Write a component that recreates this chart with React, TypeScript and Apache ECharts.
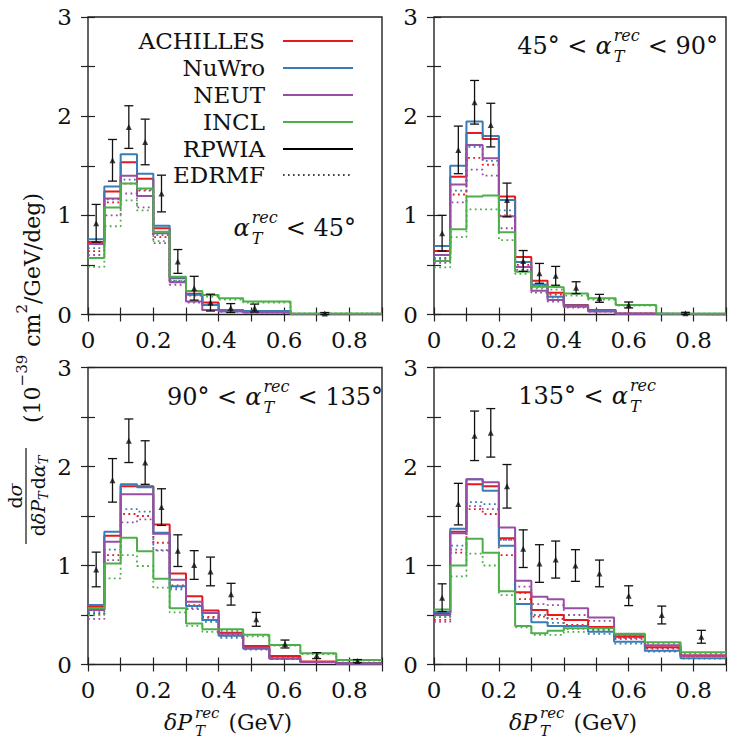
import React, { useEffect, useRef } from "react";
import * as echarts from "echarts";

// ---------- bin edges (GeV) ----------
const EDGES_TL = [0, 0.05, 0.1, 0.15, 0.2, 0.25, 0.3, 0.35, 0.4, 0.475, 0.62, 0.9];
const EDGES_TR = [0, 0.05, 0.1, 0.15, 0.2, 0.25, 0.3, 0.35, 0.4, 0.475, 0.56, 0.685, 0.9];
const EDGES_B = [0, 0.05, 0.1, 0.15, 0.2, 0.25, 0.3, 0.35, 0.4, 0.475, 0.555, 0.65, 0.76, 0.9];

const GENERATORS = ["ACHILLES", "NuWro", "NEUT", "INCL"];
const COLORS = ["#e41a1c", "#377eb8", "#984ea3", "#4daf4a"];
const MODELS = ["RPWIA", "EDRMF"];

// ---------- alpha_T < 45 ----------
const TL_ACH_RP = [0.73, 1.24, 1.535, 1.37, 0.87, 0.365, 0.21, 0.12, 0.045, 0.035, 0.005];
const TL_NUW_RP = [0.76, 1.29, 1.615, 1.42, 0.895, 0.37, 0.2, 0.096, 0.045, 0.035, 0.005];
const TL_NEU_RP = [0.71, 1.17, 1.4, 1.195, 0.82, 0.325, 0.13, 0.045, 0.03, 0.02, 0.003];
const TL_INC_RP = [0.57, 1.08, 1.32, 1.27, 0.835, 0.38, 0.237, 0.197, 0.163, 0.13, 0.01];
const TL_ACH_ED = [0.64, 1.13, 1.32, 1.25, 0.78, 0.33, 0.19, 0.1, 0.04, 0.03, 0.005];
const TL_NUW_ED = [0.67, 1.16, 1.36, 1.26, 0.8, 0.34, 0.2, 0.1, 0.04, 0.03, 0.005];
const TL_NEU_ED = [0.6, 1.0, 1.22, 1.08, 0.72, 0.3, 0.12, 0.045, 0.03, 0.02, 0.003];
const TL_INC_ED = [0.48, 0.89, 1.15, 1.05, 0.74, 0.34, 0.21, 0.18, 0.15, 0.12, 0.01];
const TL_DATA_X = [0.025, 0.075, 0.125, 0.175, 0.225, 0.275, 0.325, 0.375, 0.437, 0.51, 0.725];
const TL_DATA_Y = [0.92, 1.555, 1.89, 1.74, 1.22, 0.535, 0.265, 0.12, 0.065, 0.065, 0.01];
const TL_DATA_E = [0.19, 0.21, 0.215, 0.23, 0.185, 0.12, 0.12, 0.085, 0.045, 0.04, 0.01];

// ---------- 45 < alpha_T < 90 ----------
const TR_ACH_RP = [0.64, 1.39, 1.83, 1.77, 1.19, 0.58, 0.34, 0.22, 0.095, 0.045, 0.01, 0.002];
const TR_NUW_RP = [0.69, 1.5, 1.945, 1.8, 1.155, 0.53, 0.3, 0.18, 0.09, 0.04, 0.008, 0.002];
const TR_NEU_RP = [0.6, 1.31, 1.71, 1.575, 0.99, 0.48, 0.24, 0.146, 0.08, 0.03, 0.008, 0.002];
const TR_INC_RP = [0.54, 0.86, 1.19, 1.2, 0.83, 0.43, 0.28, 0.274, 0.213, 0.163, 0.096, 0.01];
const TR_ACH_ED = [0.56, 1.21, 1.58, 1.51, 1.0, 0.5, 0.3, 0.2, 0.08, 0.04, 0.008, 0.001];
const TR_NUW_ED = [0.57, 1.25, 1.69, 1.55, 1.05, 0.48, 0.28, 0.17, 0.08, 0.04, 0.008, 0.001];
const TR_NEU_ED = [0.52, 1.13, 1.46, 1.4, 0.87, 0.45, 0.22, 0.13, 0.07, 0.03, 0.005, 0.001];
const TR_INC_ED = [0.475, 0.78, 1.06, 1.06, 0.75, 0.41, 0.26, 0.25, 0.19, 0.15, 0.09, 0.008];
const TR_DATA_X = [0.025, 0.075, 0.125, 0.175, 0.225, 0.275, 0.325, 0.375, 0.438, 0.51, 0.6, 0.775];
const TR_DATA_Y = [0.82, 1.66, 2.14, 1.91, 1.155, 0.54, 0.415, 0.39, 0.27, 0.163, 0.096, 0.012];
const TR_DATA_E = [0.18, 0.24, 0.22, 0.22, 0.17, 0.105, 0.1, 0.095, 0.06, 0.04, 0.03, 0.01];

// ---------- 90 < alpha_T < 135 ----------
const BL_ACH_RP = [0.58, 1.3, 1.8, 1.8, 1.415, 0.92, 0.69, 0.545, 0.32, 0.186, 0.086, 0.03, 0.012];
const BL_NUW_RP = [0.6, 1.34, 1.82, 1.79, 1.33, 0.79, 0.59, 0.45, 0.29, 0.16, 0.06, 0.025, 0.01];
const BL_NEU_RP = [0.55, 1.24, 1.72, 1.72, 1.32, 0.855, 0.635, 0.52, 0.31, 0.17, 0.06, 0.025, 0.01];
const BL_INC_RP = [0.57, 1.02, 1.28, 1.145, 0.865, 0.567, 0.415, 0.355, 0.355, 0.3, 0.197, 0.113, 0.045];
const BL_ACH_ED = [0.51, 1.105, 1.52, 1.5, 1.23, 0.8, 0.6, 0.48, 0.29, 0.17, 0.075, 0.025, 0.01];
const BL_NUW_ED = [0.53, 1.16, 1.57, 1.545, 1.15, 0.76, 0.56, 0.43, 0.27, 0.15, 0.055, 0.025, 0.01];
const BL_NEU_ED = [0.46, 1.055, 1.435, 1.465, 1.155, 0.78, 0.57, 0.47, 0.3, 0.16, 0.055, 0.025, 0.01];
const BL_INC_ED = [0.5, 0.87, 1.105, 0.995, 0.776, 0.527, 0.39, 0.33, 0.34, 0.285, 0.19, 0.105, 0.04];
const BL_DATA_X = [0.025, 0.075, 0.125, 0.175, 0.225, 0.275, 0.325, 0.375, 0.438, 0.515, 0.603, 0.7, 0.825];
const BL_DATA_Y = [0.96, 1.86, 2.26, 2.04, 1.59, 1.15, 1.005, 0.94, 0.71, 0.456, 0.207, 0.09, 0.035];
const BL_DATA_E = [0.175, 0.22, 0.22, 0.22, 0.185, 0.16, 0.145, 0.145, 0.11, 0.07, 0.04, 0.03, 0.015];

// ---------- 135 < alpha_T ----------
const BR_ACH_RP = [0.52, 1.34, 1.82, 1.8, 1.275, 0.73, 0.55, 0.5, 0.45, 0.38, 0.28, 0.173, 0.09];
const BR_NUW_RP = [0.53, 1.37, 1.87, 1.755, 1.2, 0.61, 0.426, 0.39, 0.39, 0.33, 0.23, 0.14, 0.062];
const BR_NEU_RP = [0.5, 1.325, 1.87, 1.84, 1.385, 0.847, 0.685, 0.66, 0.567, 0.476, 0.3, 0.195, 0.09];
const BR_INC_RP = [0.555, 1.0, 1.27, 1.13, 0.74, 0.39, 0.315, 0.34, 0.365, 0.365, 0.31, 0.224, 0.123];
const BR_ACH_ED = [0.45, 1.13, 1.57, 1.52, 1.105, 0.66, 0.483, 0.46, 0.4, 0.35, 0.26, 0.16, 0.085];
const BR_NUW_ED = [0.48, 1.2, 1.64, 1.62, 1.26, 0.72, 0.5, 0.42, 0.36, 0.31, 0.21, 0.13, 0.06];
const BR_NEU_ED = [0.43, 1.16, 1.6, 1.57, 1.26, 0.786, 0.61, 0.6, 0.5, 0.44, 0.27, 0.17, 0.085];
const BR_INC_ED = [0.48, 0.89, 1.12, 1.0, 0.7, 0.376, 0.3, 0.3, 0.33, 0.34, 0.29, 0.21, 0.11];
const BR_DATA_X = [0.025, 0.075, 0.125, 0.175, 0.225, 0.275, 0.325, 0.375, 0.436, 0.51, 0.6, 0.702, 0.824];
const BR_DATA_Y = [0.675, 1.62, 2.31, 2.34, 1.8, 1.17, 1.02, 1.06, 1.0, 0.92, 0.695, 0.5, 0.28];
const BR_DATA_E = [0.14, 0.21, 0.25, 0.245, 0.22, 0.19, 0.19, 0.187, 0.16, 0.135, 0.1, 0.09, 0.065];

const X_MIN = 0;
const X_MAX = 0.9;
const X_STEP = 0.1;
const Y_MIN = 0;
const Y_MAX = 3;
const Y_STEP = 0.5;

const PANELS = [
  { edges: EDGES_TL, rp: [TL_ACH_RP, TL_NUW_RP, TL_NEU_RP, TL_INC_RP], ed: [TL_ACH_ED, TL_NUW_ED, TL_NEU_ED, TL_INC_ED], dx: TL_DATA_X, dy: TL_DATA_Y, de: TL_DATA_E },
  { edges: EDGES_TR, rp: [TR_ACH_RP, TR_NUW_RP, TR_NEU_RP, TR_INC_RP], ed: [TR_ACH_ED, TR_NUW_ED, TR_NEU_ED, TR_INC_ED], dx: TR_DATA_X, dy: TR_DATA_Y, de: TR_DATA_E },
  { edges: EDGES_B, rp: [BL_ACH_RP, BL_NUW_RP, BL_NEU_RP, BL_INC_RP], ed: [BL_ACH_ED, BL_NUW_ED, BL_NEU_ED, BL_INC_ED], dx: BL_DATA_X, dy: BL_DATA_Y, de: BL_DATA_E },
  { edges: EDGES_B, rp: [BR_ACH_RP, BR_NUW_RP, BR_NEU_RP, BR_INC_RP], ed: [BR_ACH_ED, BR_NUW_ED, BR_NEU_ED, BR_INC_ED], dx: BR_DATA_X, dy: BR_DATA_Y, de: BR_DATA_E },
];

// layout (pixels)
const GRIDS = [
  { left: 88, top: 17, width: 294, height: 297.5 },
  { left: 434, top: 17, width: 294, height: 297.5 },
  { left: 88, top: 367.5, width: 294, height: 297 },
  { left: 434, top: 367.5, width: 294, height: 297 },
];

const FONT = "DejaVu Serif";
const INK = "#111";

let measureCtx: CanvasRenderingContext2D | null = null;
function textWidth(t: string, size: number, italic?: boolean) {
  if (!measureCtx) measureCtx = document.createElement("canvas").getContext("2d");
  if (!measureCtx) return t.length * size * 0.5;
  measureCtx.font = `${italic ? "italic " : ""}${size}px "DejaVu Serif"`;
  return measureCtx.measureText(t).width;
}

type Part = { t: string; s: number; it?: boolean; dy?: number; stack?: boolean; gap?: number };

function mathGroup(parts: Part[], x: number, y: number, align: "left" | "center" | "right", extra: any = {}) {
  let cx = 0;
  let pending = 0;
  const items: any[] = [];
  for (const p of parts) {
    if (p.gap) cx += p.gap;
    const w = textWidth(p.t, p.s, p.it);
    items.push({ x: cx, p });
    if (p.stack) pending = Math.max(pending, w);
    else {
      cx += Math.max(w, pending);
      pending = 0;
    }
  }
  cx += pending;
  const off = align === "right" ? -cx : align === "center" ? -cx / 2 : 0;
  const children = items.map(({ x: ix, p }) => ({
    type: "text",
    x: ix + off,
    y: p.dy || 0,
    silent: true,
    style: {
      text: p.t,
      fontFamily: FONT,
      fontSize: p.s,
      fontStyle: p.it ? "italic" : "normal",
      fill: INK,
      textAlign: "left",
      align: "left",
      textVerticalAlign: "middle",
      verticalAlign: "middle",
    },
  }));
  return { type: "group", x, y, children, ...extra };
}

function stepData(edges: number[], vals: number[]) {
  const d = vals.map((v, i) => [edges[i], v]);
  d.push([edges[edges.length - 1], vals[vals.length - 1]]);
  return d;
}

function alphaParts(pre: string, post: string, size: number): Part[] {
  const sub = Math.round(size * 0.66);
  const parts: Part[] = [];
  if (pre) parts.push({ t: pre, s: size });
  parts.push({ t: "α", s: size, it: true, gap: pre ? 8 : 0 });
  parts.push({ t: "rec", s: sub, it: true, dy: -11, stack: true, gap: 2 });
  parts.push({ t: "T", s: sub, it: true, dy: 10 });
  if (post) parts.push({ t: post, s: size, gap: 8 });
  return parts;
}

function buildOption() {
  const grid = GRIDS.map((g) => ({ ...g, show: true, borderColor: "#222", borderWidth: 1.4, backgroundColor: "transparent" }));
  const xAxis: any[] = [];
  const yAxis: any[] = [];
  const tick = { show: true, inside: true, length: 7, lineStyle: { color: "#222", width: 1.2 } };
  GRIDS.forEach((_, p) => {
    const common = { type: "value", gridIndex: p, min: X_MIN, max: X_MAX, interval: X_STEP, splitLine: { show: false }, axisLine: { show: false } };
    xAxis.push({
      ...common,
      position: "bottom",
      axisTick: tick,
      axisLabel: {
        show: true,
        margin: 15,
        lineHeight: 20,
        color: INK,
        fontFamily: FONT,
        fontSize: 23,
        showMinLabel: true,
        showMaxLabel: true,
        formatter: (v: number) => {
          const k = Math.round(v * 10);
          if (k % 2 !== 0) return "";
          return k === 0 ? "0" : (k / 10).toFixed(1);
        },
      },
    });
    xAxis.push({ ...common, position: "top", axisTick: tick, axisLabel: { show: false } });
    const ycommon = { type: "value", gridIndex: p, min: Y_MIN, max: Y_MAX, interval: Y_STEP, splitLine: { show: false }, axisLine: { show: false } };
    yAxis.push({
      ...ycommon,
      position: "left",
      axisTick: tick,
      axisLabel: {
        show: true,
        margin: 16,
        color: INK,
        fontFamily: FONT,
        fontSize: 23,
        formatter: (v: number) => (Math.abs(v - Math.round(v)) < 1e-6 ? String(Math.round(v)) : ""),
      },
    });
    yAxis.push({ ...ycommon, position: "right", axisTick: tick, axisLabel: { show: false } });
  });

  const series: any[] = [];
  PANELS.forEach((panel, p) => {
    const xi = 2 * p;
    const yi = 2 * p;
    GENERATORS.forEach((gname, g) => {
      series.push({
        name: `${gname} ${MODELS[1]}`,
        type: "line",
        xAxisIndex: xi,
        yAxisIndex: yi,
        step: "end",
        showSymbol: false,
        symbol: "none",
        silent: true,
        z: 2,
        lineStyle: { color: COLORS[g], width: 1.8, type: [1.8, 3.4] },
        data: stepData(panel.edges, panel.ed[g]),
      });
    });
    GENERATORS.forEach((gname, g) => {
      series.push({
        name: `${gname} ${MODELS[0]}`,
        type: "line",
        xAxisIndex: xi,
        yAxisIndex: yi,
        step: "end",
        showSymbol: false,
        symbol: "none",
        silent: true,
        z: 3,
        lineStyle: { color: COLORS[g], width: 2 },
        data: stepData(panel.edges, panel.rp[g]),
      });
    });
    series.push({
      name: "T2K data errors",
      type: "custom",
      xAxisIndex: xi,
      yAxisIndex: yi,
      z: 4,
      silent: true,
      encode: { x: 0, y: 1 },
      data: panel.dx.map((x, i) => [x, panel.dy[i], panel.de[i]]),
      renderItem: (params: any, api: any) => {
        const x = api.value(0);
        const y = api.value(1);
        const e = api.value(2);
        const hi = api.coord([x, y + e]);
        const lo = api.coord([x, Math.max(0, y - e)]);
        const w = 4.5;
        const st = { stroke: INK, lineWidth: 1.3 };
        return {
          type: "group",
          children: [
            { type: "line", shape: { x1: hi[0], y1: hi[1], x2: lo[0], y2: lo[1] }, style: st },
            { type: "line", shape: { x1: hi[0] - w, y1: hi[1], x2: hi[0] + w, y2: hi[1] }, style: st },
            { type: "line", shape: { x1: lo[0] - w, y1: lo[1], x2: lo[0] + w, y2: lo[1] }, style: st },
          ],
        };
      },
    });
    series.push({
      name: "T2K data",
      type: "scatter",
      xAxisIndex: xi,
      yAxisIndex: yi,
      z: 5,
      silent: true,
      symbol: "triangle",
      symbolSize: 6,
      itemStyle: { color: INK },
      data: panel.dx.map((x, i) => [x, panel.dy[i]]),
    });
  });

  // ---------- graphic: legend, panel labels, axis titles ----------
  const graphic: any[] = [];
  const legendY = [41, 68, 95, 122, 149, 175];
  const legendNames = [...GENERATORS, ...MODELS];
  legendNames.forEach((name, i) => {
    graphic.push({
      type: "text",
      x: 265,
      y: legendY[i],
      silent: true,
      style: {
        text: name,
        fontFamily: FONT,
        fontSize: 23,
        fill: INK,
        textAlign: "right",
        align: "right",
        textVerticalAlign: "middle",
        verticalAlign: "middle",
      },
    });
    const color = i < 4 ? COLORS[i] : "#000";
    graphic.push({
      type: "line",
      silent: true,
      shape: { x1: 283, y1: legendY[i], x2: 353, y2: legendY[i] },
      style: { stroke: color, lineWidth: i === 5 ? 1.6 : 2, lineDash: i === 5 ? [1.6, 3.4] : null },
    });
  });

  graphic.push(mathGroup(alphaParts("", "< 45°", 24), 356, 228, "right"));
  graphic.push(mathGroup(alphaParts("45° <", "< 90°", 24), 718, 46, "right"));
  graphic.push(mathGroup(alphaParts("90° <", "< 135°", 24), 383, 397, "right"));
  graphic.push(mathGroup(alphaParts("135° <", "", 24), 656, 396, "right"));

  // x-axis titles
  const xTitle: Part[] = [
    { t: "δP", s: 22, it: true },
    { t: "rec", s: 15, it: true, dy: -9, stack: true, gap: 3 },
    { t: "T", s: 15, it: true, dy: 9 },
    { t: "(GeV)", s: 22, gap: 9 },
  ];
  graphic.push(mathGroup(xTitle, 228, 722, "center"));
  graphic.push(mathGroup(xTitle, 573, 722, "center"));

  // y-axis title (rotated)
  const yMain: Part[] = [
    { t: "(10", s: 22 },
    { t: "−39", s: 15, dy: -10 },
    { t: "cm", s: 22, gap: 8 },
    { t: "2", s: 15, dy: -10 },
    { t: "/GeV/deg)", s: 22 },
  ];
  graphic.push(mathGroup(yMain, 32, 308, "center", { rotation: Math.PI / 2 }));
  const num: Part[] = [
    { t: "d", s: 19 },
    { t: "σ", s: 19, it: true },
  ];
  const den: Part[] = [
    { t: "d", s: 19 },
    { t: "δP", s: 19, it: true },
    { t: "T", s: 13, it: true, dy: 5 },
    { t: "d", s: 19, gap: 2 },
    { t: "α", s: 19, it: true },
    { t: "T", s: 13, it: true, dy: 5 },
  ];
  graphic.push({
    type: "group",
    x: 26,
    y: 496,
    rotation: Math.PI / 2,
    silent: true,
    children: [
      { type: "line", shape: { x1: -48, y1: 0, x2: 48, y2: 0 }, style: { stroke: INK, lineWidth: 1.2 } },
      mathGroup(num, 0, -11, "center"),
      mathGroup(den, 0, 12, "center"),
    ],
  });

  return {
    animation: false,
    backgroundColor: "#fff",
    grid,
    xAxis,
    yAxis,
    series,
    graphic,
  };
}

export default function App() {
  const ref = useRef<HTMLDivElement | null>(null);
  useEffect(() => {
    if (!ref.current) return;
    const chart = echarts.init(ref.current, undefined, { renderer: "svg" });
    chart.setOption(buildOption() as any);
    return () => chart.dispose();
  }, []);
  return <div ref={ref} style={{ position: "absolute", left: 0, top: 0, width: 729, height: 748 }} />;
}
